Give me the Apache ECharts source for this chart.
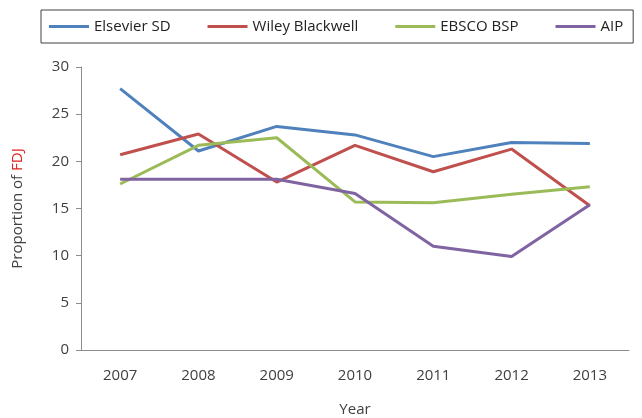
<!DOCTYPE html>
<html>
<head>
<meta charset="utf-8">
<script src="https://cdn.jsdelivr.net/npm/echarts@6/dist/echarts.min.js"></script>
<style>
  html, body { margin: 0; padding: 0; background: #fff; }
  #main { width: 642px; height: 418px; }
</style>
</head>
<body>
<div id="main"></div>
<script>
// data
var years = ['2007', '2008', '2009', '2010', '2011', '2012', '2013'];
var elsevier = [27.7, 21.1, 23.7, 22.8, 20.5, 22.0, 21.9];
var wiley = [20.7, 22.9, 17.8, 21.7, 18.9, 21.3, 15.3];
var ebsco = [17.6, 21.7, 22.5, 15.7, 15.6, 16.5, 17.3];
var aip = [18.1, 18.1, 18.1, 16.6, 11.0, 9.9, 15.4];
var seriesNames = ['Elsevier SD', 'Wiley Blackwell', 'EBSCO BSP', 'AIP'];
var colors = ['#4f81bd', '#c0504d', '#9bbb59', '#8064a2'];

var font = 'Open Sans';

function line(name, data, color) {
	return {
		name: name,
		type: 'line',
		data: data,
		symbol: 'none',
		lineStyle: { width: 3, color: color },
		itemStyle: { color: color }
	};
}

var option = {
	animation: false,
	backgroundColor: '#fff',
	legend: {
		left: 41,
		top: 10,
		padding: [9, 10, 9, 8],
		borderColor: '#404040',
		borderWidth: 1,
		icon: 'rect',
		itemWidth: 40,
		itemHeight: 3,
		itemGap: 37,
		textStyle: { fontFamily: font, fontSize: 15, color: '#222' },
		data: seriesNames
	},
	grid: { left: 81, right: 13, top: 67, bottom: 68, outerBoundsMode: 'none' },
	xAxis: {
		type: 'category',
		data: years,
		boundaryGap: true,
		name: 'Year',
		nameLocation: 'middle',
		nameGap: 52,
		nameTextStyle: { fontFamily: font, fontSize: 15, color: '#404040' },
		axisLine: { lineStyle: { color: '#8c8c8c' } },
		axisTick: { length: 5, lineStyle: { color: '#8c8c8c' } },
		axisLabel: { fontFamily: font, fontSize: 15, color: '#404040', margin: 18 }
	},
	yAxis: {
		type: 'value',
		min: 0,
		max: 30,
		interval: 5,
		name: '{a|Proportion of }{b|FDJ}',
		nameLocation: 'middle',
		nameRotate: 90,
		nameGap: 56,
		nameTextStyle: {
			rich: {
				a: { fontFamily: font, fontSize: 15, color: '#404040' },
				b: { fontFamily: font, fontSize: 15, color: '#e0221e' }
			}
		},
		splitLine: { show: false },
		axisLine: { show: true, lineStyle: { color: '#8c8c8c' } },
		axisTick: { show: true, length: 5, lineStyle: { color: '#8c8c8c' } },
		axisLabel: { fontFamily: font, fontSize: 15, color: '#404040', margin: 12 }
	},
	series: [
		line(seriesNames[0], elsevier, colors[0]),
		line(seriesNames[1], wiley, colors[1]),
		line(seriesNames[2], ebsco, colors[2]),
		line(seriesNames[3], aip, colors[3])
	]
};

var myChart = echarts.init(document.getElementById('main'));
myChart.setOption(option);
</script>
</body>
</html>
